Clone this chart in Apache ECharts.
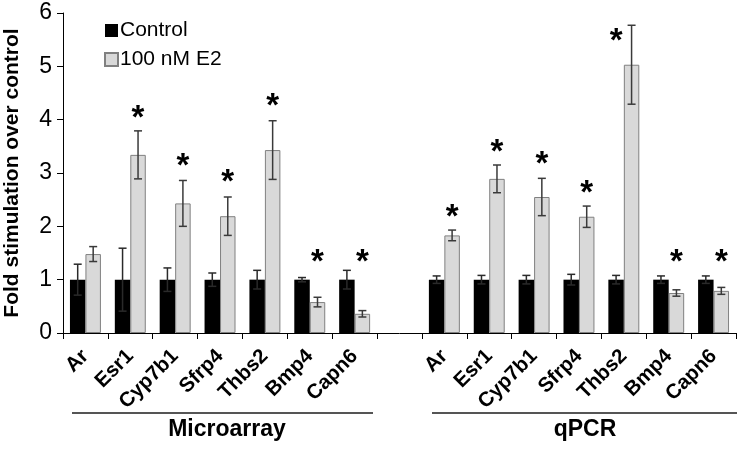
<!DOCTYPE html>
<html>
<head>
<meta charset="utf-8">
<script src="https://cdn.jsdelivr.net/npm/echarts@6/dist/echarts.min.js"></script>
<style>html,body{margin:0;padding:0;background:#fff;}#c{width:742px;height:449px;}</style>
</head>
<body>
<div id="c"></div>
<script>
const genes = ['Ar', 'Esr1', 'Cyp7b1', 'Sfrp4', 'Thbs2', 'Bmp4', 'Capn6'];
const groupNames = ['Microarray', 'qPCR'];
const seriesNames = ['Control', '100 nM E2'];
const yTicks = [0, 1, 2, 3, 4, 5, 6];

// Microarray
const microControl = [1, 1, 1, 1, 1, 1, 1];
const microControlErr = [0.29, 0.59, 0.22, 0.125, 0.175, 0.04, 0.175];
const microE2 = [1.48, 3.34, 2.43, 2.19, 3.43, 0.58, 0.36];
const microE2Err = [0.14, 0.45, 0.43, 0.36, 0.55, 0.09, 0.06];
const microStar = [null, 4.16, 3.26, 2.97, 4.39, 1.47, 1.47];
const microStarSide = [1, 1, 1, 1, 1, 1, 1];

// qPCR
const qpcrControl = [1, 1, 1, 1, 1, 1, 1];
const qpcrControlErr = [0.07, 0.08, 0.08, 0.10, 0.08, 0.07, 0.07];
const qpcrE2 = [1.83, 2.89, 2.55, 2.18, 5.03, 0.75, 0.79];
const qpcrE2Err = [0.10, 0.26, 0.35, 0.20, 0.74, 0.06, 0.065];
const qpcrStar = [2.30, 3.53, 3.31, 2.75, 5.61, 1.46, 1.46];
const qpcrStarSide = [1, 1, 1, 1, -1, 1, 1];

// Build combined category axis with a blank gap slot
const categories = genes.concat(['']).concat(genes);
const controlVals = microControl.concat([null]).concat(qpcrControl);
const controlErr = microControlErr.concat([null]).concat(qpcrControlErr);
const e2Vals = microE2.concat([null]).concat(qpcrE2);
const e2Err = microE2Err.concat([null]).concat(qpcrE2Err);
const stars = microStar.concat([null]).concat(qpcrStar);
const starSide = microStarSide.concat([0]).concat(qpcrStarSide);

const BAR_FRAC = 0.345;

const errData = [];
categories.forEach((c, i) => {
  if (controlVals[i] != null) errData.push([i, controlVals[i] - controlErr[i], controlVals[i] + controlErr[i], -1]);
  if (e2Vals[i] != null) errData.push([i, e2Vals[i] - e2Err[i], e2Vals[i] + e2Err[i], 1]);
});
const starData = [];
stars.forEach((s, i) => { if (s != null) starData.push([i, s, starSide[i]]); });

const chart = echarts.init(document.getElementById('c'));
const FONT = 'Liberation Sans, Arial, sans-serif';

chart.setOption({
  animation: false,
  textStyle: { fontFamily: FONT },
  grid: { left: 63, right: 6, top: 13, bottom: 116, containLabel: false, outerBoundsMode: 'none' },
  legend: {
    orient: 'vertical', left: 99, top: 15, itemWidth: 13, itemHeight: 13, itemGap: 8,
    icon: 'rect',
    textStyle: { fontSize: 21, color: '#000', fontFamily: FONT, padding: [0, 0, 0, -3] },
    data: seriesNames
  },
  xAxis: {
    type: 'category', data: categories,
    axisLine: { lineStyle: { color: '#000', width: 1 } },
    axisTick: { show: true, interval: 0, length: 6, lineStyle: { color: '#000' } },
    axisLabel: { interval: 0, rotate: 45, fontSize: 20.5, fontWeight: 'bold', color: '#000', margin: 20, fontFamily: FONT }
  },
  yAxis: {
    type: 'value', min: 0, max: 6, interval: 1,
    name: 'Fold stimulation over control', nameLocation: 'middle', nameGap: 40,
    nameTextStyle: { fontSize: 21, fontWeight: 'bold', color: '#000', fontFamily: FONT },
    axisLine: { show: true, lineStyle: { color: '#000' } },
    axisTick: { show: true, length: 6, lineStyle: { color: '#000' } },
    axisLabel: { fontSize: 23, color: '#000', margin: 11, fontFamily: FONT,
      formatter: v => (yTicks.indexOf(v) >= 0 ? String(v) : '') },
    splitLine: { show: false }
  },
  series: [
    { name: seriesNames[0], type: 'bar', data: controlVals, barWidth: (BAR_FRAC * 100) + '%', barGap: '0%',
      itemStyle: { color: '#000' } },
    { name: seriesNames[1], type: 'bar', data: e2Vals, barWidth: (BAR_FRAC * 100) + '%', barGap: '0%',
      itemStyle: { color: '#d9d9d9', borderColor: '#808080', borderWidth: 1 } },
    { type: 'custom', data: errData, z: 5,
      renderItem: function (params, api) {
        const i = api.value(0);
        const band = api.size([1, 0])[0];
        const off = api.value(3) * band * BAR_FRAC / 2;
        const lo = api.coord([i, api.value(1)]);
        const hi = api.coord([i, api.value(2)]);
        const x = lo[0] + off;
        const w = 4;
        const st = { stroke: api.value(3) < 0 ? '#2a2a2a' : '#3a3a3a', lineWidth: 1.5 };
        return { type: 'group', children: [
          { type: 'line', shape: { x1: x, y1: lo[1], x2: x, y2: hi[1] }, style: st },
          { type: 'line', shape: { x1: x - w, y1: hi[1], x2: x + w, y2: hi[1] }, style: st },
          { type: 'line', shape: { x1: x - w, y1: lo[1], x2: x + w, y2: lo[1] }, style: st }
        ]};
      }
    },
    { type: 'custom', data: starData, z: 6,
      renderItem: function (params, api) {
        const i = api.value(0);
        const band = api.size([1, 0])[0];
        const off = api.value(2) * band * BAR_FRAC / 2;
        const p = api.coord([i, api.value(1)]);
        return { type: 'text', x: p[0] + off, y: p[1] + 8,
          style: { text: '*', fontSize: 33, fontWeight: 'bold', fill: '#000', align: 'center', verticalAlign: 'middle', fontFamily: FONT } };
      }
    }
  ],
  graphic: [
    { type: 'line', shape: { x1: 72, y1: 413, x2: 373, y2: 413 }, style: { stroke: '#555', lineWidth: 2 } },
    { type: 'line', shape: { x1: 432, y1: 413, x2: 737, y2: 413 }, style: { stroke: '#555', lineWidth: 2 } },
    { type: 'text', x: 227, y: 430, style: { text: groupNames[0], fontSize: 23, fontWeight: 'bold', fill: '#000', align: 'center', verticalAlign: 'middle', fontFamily: FONT } },
    { type: 'text', x: 585, y: 430, style: { text: groupNames[1], fontSize: 23, fontWeight: 'bold', fill: '#000', align: 'center', verticalAlign: 'middle', fontFamily: FONT } }
  ]
});
</script>
</body>
</html>
